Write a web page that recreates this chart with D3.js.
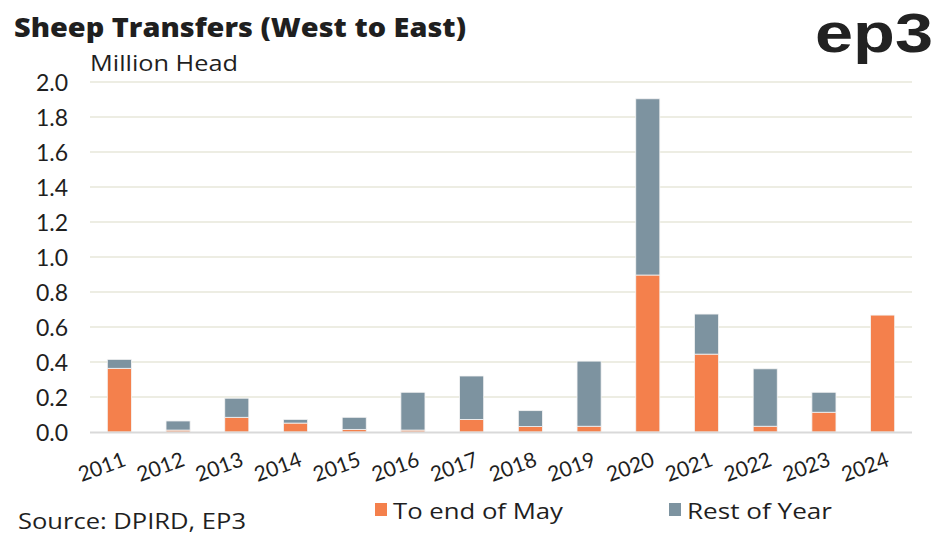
<!DOCTYPE html>
<html>
<head>
<meta charset="utf-8">
<script src="https://cdn.jsdelivr.net/npm/d3@7"></script>
<style>
html,body{margin:0;padding:0;background:#fff;}
svg{display:block;}
</style>
</head>
<body>
<svg id="chart" width="947" height="539"></svg>
<script>
const years = ["2011","2012","2013","2014","2015","2016","2017","2018","2019","2020","2021","2022","2023","2024"];
const toEndOfMay = [0.364,0.011,0.084,0.051,0.015,0.011,0.072,0.031,0.033,0.897,0.445,0.033,0.113,0.668];
const restOfYear = [0.051,0.052,0.109,0.021,0.069,0.216,0.248,0.091,0.372,1.007,0.229,0.328,0.114,0];
const yTicks = [0,0.2,0.4,0.6,0.8,1.0,1.2,1.4,1.6,1.8,2.0];
const seriesNames = ["To end of May","Rest of Year"];
const colors = ["#F4804C","#7D93A0"];

const font = "'Open Sans', Lato, sans-serif";
const textColor = "#1f1f1f";
const svg = d3.select("#chart");

const x = d3.scaleBand().domain(years).range([90, 912]).paddingInner(0.59).paddingOuter(0.295);
const y = d3.scaleLinear().domain([0, 2]).range([432, 82]);

// gridlines
svg.append("g").selectAll("line").data(yTicks.filter(d => d > 0)).join("line")
  .attr("x1", 90).attr("x2", 912)
  .attr("y1", d => y(d)).attr("y2", d => y(d))
  .attr("stroke", "#EDEDE3").attr("stroke-width", 2);

// y axis
const yAxis = d3.axisLeft(y).tickValues(yTicks).tickFormat(d3.format(".1f")).tickSize(0).tickPadding(0);
const gy = svg.append("g").attr("transform", "translate(68,0)").call(yAxis);
gy.select(".domain").remove();
gy.selectAll("text").attr("font-family", "Lato, sans-serif").attr("font-size", 23).attr("fill", textColor).attr("dy", "0.36em");

// stacked bars
const table = years.map((yr, i) => ({year: yr, may: toEndOfMay[i], rest: restOfYear[i]}));
const stack = d3.stack().keys(["may", "rest"])(table);
svg.append("g").selectAll("g").data(stack).join("g")
  .attr("fill", (d, i) => colors[i])
  .selectAll("rect").data(d => d.filter(s => s[1] - s[0] > 0)).join("rect")
  .attr("x", d => x(d.data.year))
  .attr("width", x.bandwidth())
  .attr("y", d => y(d[1]))
  .attr("height", d => y(d[0]) - y(d[1]))
  .attr("stroke", "#f4f4f4").attr("stroke-width", 0.8);

// baseline
svg.append("line").attr("x1", 90).attr("x2", 912).attr("y1", y(0) + 0.5).attr("y2", y(0) + 0.5)
  .attr("stroke", "#D9D9D9").attr("stroke-width", 2);

// x axis labels
const xAxis = d3.axisBottom(x).tickSize(0).tickPadding(0);
const gx = svg.append("g").attr("transform", "translate(0,447)").call(xAxis);
gx.select(".domain").remove();
gx.selectAll("text")
  .attr("font-family", "Lato, sans-serif").attr("font-size", 21).attr("fill", textColor)
  .attr("text-anchor", "end")
  .attr("transform", "rotate(-20)")
  .attr("dx", "0.05em").attr("dy", "0.95em");
gx.selectAll(".tick").attr("transform", d => "translate(" + (x(d) + x.bandwidth() / 2) + ",0)");

// title
svg.append("text").attr("x", 14).attr("y", 37)
  .attr("font-family", "'Open Sans', sans-serif").attr("font-weight", 800).attr("font-size", 26).attr("fill", textColor)
  .attr("textLength", 452).attr("lengthAdjust", "spacingAndGlyphs")
  .text("Sheep Transfers (West to East)");
svg.append("text").attr("x", 90).attr("y", 71)
  .attr("font-family", font).attr("font-size", 22).attr("fill", textColor)
  .attr("textLength", 148).attr("lengthAdjust", "spacingAndGlyphs")
  .text("Million Head");

// logo
svg.append("text").attr("x", 815).attr("y", 52)
  .attr("font-family", "'Liberation Sans', Arial, sans-serif").attr("font-weight", 700).attr("font-size", 55)
  .attr("textLength", 118).attr("lengthAdjust", "spacingAndGlyphs").attr("fill", "#222")
  .text("ep3");

// source
svg.append("text").attr("x", 18).attr("y", 529)
  .attr("font-family", font).attr("font-size", 22).attr("fill", textColor)
  .attr("textLength", 228).attr("lengthAdjust", "spacingAndGlyphs")
  .text("Source: DPIRD, EP3");

// legend
const legendX = [375, 669];
const legendW = [170, 145];
const lg = svg.append("g").selectAll("g").data(seriesNames).join("g")
  .attr("transform", (d, i) => "translate(" + legendX[i] + ",503)");
lg.append("rect").attr("width", 12).attr("height", 13).attr("fill", (d, i) => colors[i]);
lg.append("text").attr("x", 18).attr("y", 16)
  .attr("font-family", font).attr("font-size", 22).attr("fill", textColor)
  .attr("textLength", (d, i) => legendW[i]).attr("lengthAdjust", "spacingAndGlyphs")
  .text(d => d);
</script>
</body>
</html>
